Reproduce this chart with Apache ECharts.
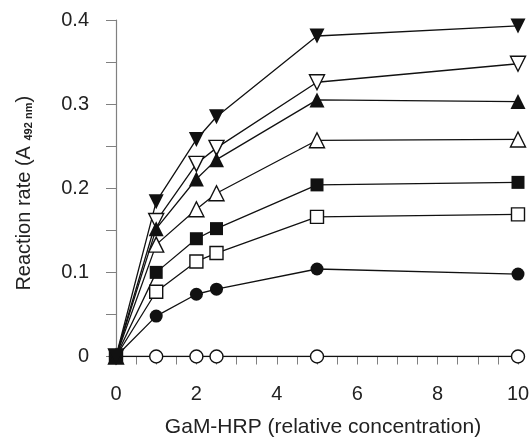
<!DOCTYPE html>
<html>
<head>
<meta charset="utf-8">
<script src="https://cdn.jsdelivr.net/npm/echarts@6/dist/echarts.min.js"></script>
<style>
  html, body { margin: 0; padding: 0; background: #fff; }
  #chart { width: 529px; height: 437px; }
</style>
</head>
<body>
<div id="chart"></div>
<script>
// GaM-HRP concentrations (x)
var xValues = [0, 1, 2, 2.5, 5, 10];
// reaction rates, one array per curve
var downFilled = [0, 0.184, 0.258, 0.285, 0.381, 0.393];
var downOpen = [0, 0.161, 0.229, 0.248, 0.326, 0.348];
var upFilled = [0, 0.152, 0.211, 0.234, 0.305, 0.303];
var upOpen = [0, 0.133, 0.175, 0.194, 0.257, 0.258];
var squareFilled = [0, 0.100, 0.140, 0.152, 0.204, 0.207];
var squareOpen = [0, 0.077, 0.113, 0.123, 0.166, 0.169];
var circleFilled = [0, 0.048, 0.074, 0.080, 0.104, 0.098];
var circleOpen = [0, 0, 0, 0, 0, 0];
var yTickLabels = ["0", "0.1", "0.2", "0.3", "0.4"];

var font = "Liberation Sans";
var myChart = echarts.init(document.getElementById("chart"));

const pairs = (ys) => xValues.map((x, i) => [x, ys[i]]);
const curve = (ys, symbol, filled, size, rotate) => ({
  type: "line",
  data: pairs(ys),
  symbol: symbol,
  symbolSize: size,
  symbolRotate: rotate || 0,
  showAllSymbol: true,
  lineStyle: { color: "#111", width: 1.3 },
  itemStyle: {
    color: filled ? "#111" : "#fff",
    borderColor: "#111",
    borderWidth: filled ? 0 : 1.4,
  },
  emphasis: { disabled: true },
  animation: false,
});

var option = {
  animation: false,
  grid: { left: 116, right: 11, top: 20, bottom: 80.5, outerBoundsMode: "none", containLabel: false },
  xAxis: {
    type: "value",
    min: 0,
    max: 10,
    interval: 2,
    name: "GaM-HRP (relative concentration)",
    nameLocation: "middle",
    nameGap: 60,
    nameTextStyle: {
      fontFamily: font,
      fontSize: 21,
      color: "#222",
      padding: [0, 0, 0, 12],
    },
    axisLine: { lineStyle: { color: "#808080", width: 1.2 } },
    axisTick: { inside: false, length: 8, lineStyle: { color: "#808080" } },
    minorTick: { show: true, splitNumber: 4, length: 8, lineStyle: { color: "#808080" } },
    splitLine: { show: false },
    axisLabel: { fontFamily: font, fontSize: 20, color: "#222", margin: 28 },
  },
  yAxis: {
    type: "value",
    min: 0,
    max: 0.4,
    interval: 0.1,
    name: "{a|Reaction rate (A }{b|492 nm}{a|)}",
    nameLocation: "middle",
    nameGap: 82,
    nameTextStyle: {
      padding: [0, 10, 0, 0],
      rich: {
        a: { fontFamily: font, fontSize: 20, color: "#222", lineHeight: 22, verticalAlign: "bottom" },
        b: { fontFamily: font, fontSize: 11, fontWeight: "bold", color: "#222", lineHeight: 22, verticalAlign: "bottom" },
      },
    },
    axisLine: { show: true, lineStyle: { color: "#808080", width: 1.2 } },
    axisTick: { show: true, inside: false, length: 10, lineStyle: { color: "#808080" } },
    minorTick: { show: true, splitNumber: 2, length: 10, lineStyle: { color: "#808080" } },
    splitLine: { show: false },
    axisLabel: {
      fontFamily: font,
      fontSize: 20,
      color: "#222",
      margin: 27,
      formatter: (v) => yTickLabels[Math.round(v * 10)],
    },
  },
  series: [
    curve(circleOpen, "circle", false, 13),
    curve(squareOpen, "rect", false, 13),
    curve(upOpen, "triangle", false, 15),
    curve(downOpen, "triangle", false, 15, 180),
    curve(circleFilled, "circle", true, 13),
    curve(squareFilled, "rect", true, 13),
    curve(upFilled, "triangle", true, 15),
    curve(downFilled, "triangle", true, 15, 180),
  ],
};
option && myChart.setOption(option);
</script>
</body>
</html>
